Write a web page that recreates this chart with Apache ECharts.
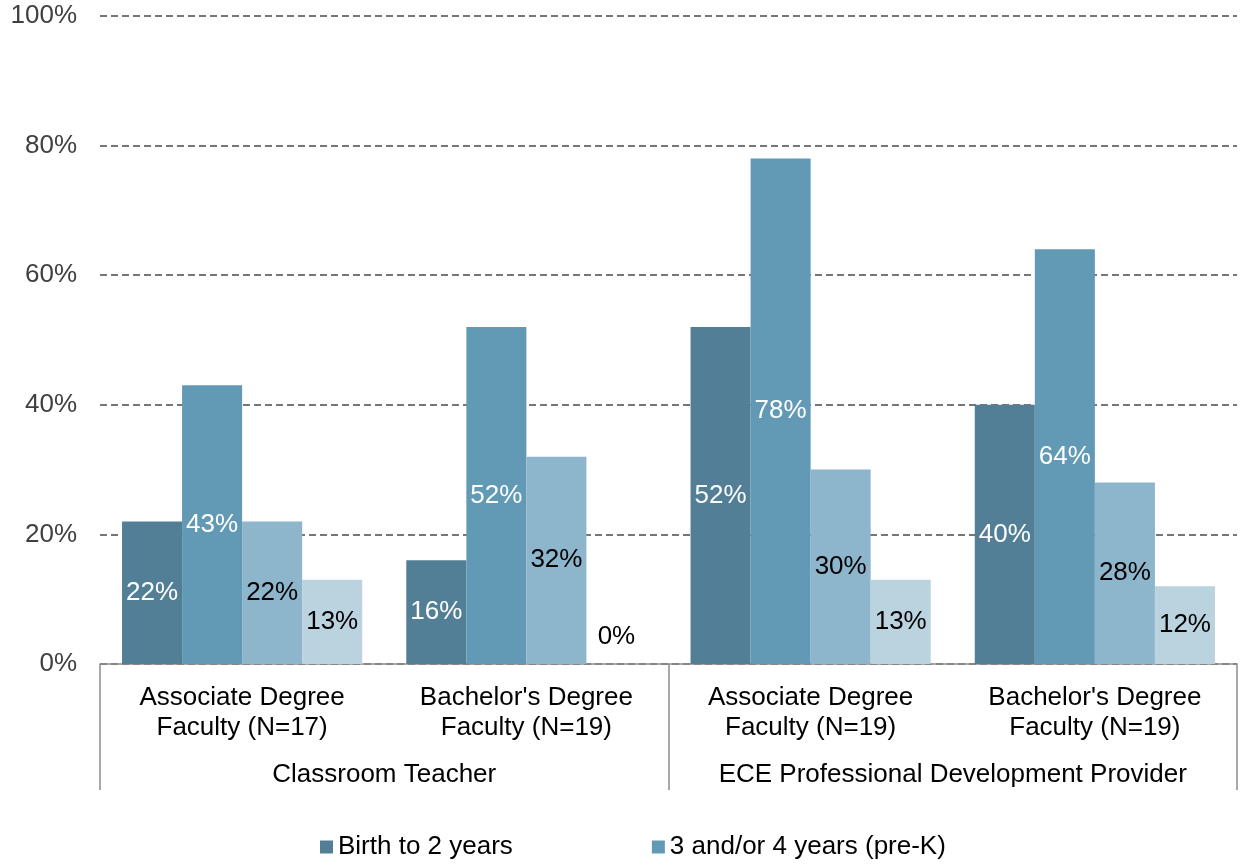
<!DOCTYPE html>
<html>
	<head>
		<meta charset="UTF-8">
		<title>Faculty by age group</title>
		<script src="https://cdn.jsdelivr.net/npm/echarts@6/dist/echarts.min.js"></script>
		<style>
			html, body { margin: 0; padding: 0; background: #fff; }
			#chart { width: 1243px; height: 865px; }
		</style>
	</head>
	<body>
		<div id="chart"></div>
		<script>
			var categories = ['Associate Degree\nFaculty (N=17)', "Bachelor's Degree\nFaculty (N=19)",
				'Associate Degree\nFaculty (N=19)', "Bachelor's Degree\nFaculty (N=19)"];
			var groups = ['Classroom Teacher', 'ECE Professional Development Provider'];
			var yTicks = [0, 20, 40, 60, 80, 100];

			var seriesNames = ['Birth to 2 years', '3 and/or 4 years (pre-K)', 'Kindergarten', 'Grades 1-3'];
			var birthTo2 = [22, 16, 52, 40];
			var preK = [43, 52, 78, 64];
			var kinder = [22, 32, 30, 28];
			var grades = [13, 0, 13, 12];

			var colors = ['#527f96', '#629ab5', '#8db5cb', '#bbd2df'];
			var labelColors = ['#ffffff', '#ffffff', '#000000', '#000000'];
			var font = 'Liberation Sans, Arial, sans-serif';

			function makeSeries(idx, values) {
				return {
					name: seriesNames[idx],
					type: 'bar',
					barGap: '0%',
					barCategoryGap: '15.5%',
					itemStyle: { color: colors[idx] },
					label: {
						show: true,
						position: 'inside',
						color: labelColors[idx],
						fontFamily: font,
						fontSize: 26,
						formatter: '{c}%'
					},
					data: values.map(function (v) {
						// zero bars get their label lifted above the axis
						if (v === 0) {
							return { value: v, label: { position: 'top', distance: 14 } };
						}
						return v;
					})
				};
			}

			var chart = echarts.init(document.getElementById('chart'), null, { renderer: 'canvas' });
			chart.setOption({
				animation: false,
				grid: { left: 100, right: 6, top: 16, bottom: 201 },
				legend: {
					data: seriesNames.slice(0, 2),
					bottom: 0,
					left: 315,
					itemWidth: 13,
					itemHeight: 13,
					itemGap: 139,
					icon: 'rect',
					textStyle: { fontFamily: font, fontSize: 26, color: '#000' }
				},
				xAxis: [{
					type: 'category',
					data: categories,
					axisLine: { lineStyle: { color: '#8c8c8c', width: 1.5 } },
					axisTick: { show: false },
					axisLabel: {
						interval: 0,
						margin: 19,
						color: '#000',
						fontFamily: font,
						fontSize: 26,
						lineHeight: 30
					}
				}, {
					type: 'category',
					data: groups,
					position: 'bottom',
					offset: 126,
					axisLine: { show: false },
					axisTick: {
						show: true,
						interval: 0,
						inside: true,
						length: 126,
						lineStyle: { color: '#8c8c8c', width: 1.5 }
					},
					axisLabel: {
						interval: 0,
						hideOverlap: false,
						inside: true,
						margin: 2,
						verticalAlign: 'bottom',
						color: '#000',
						fontFamily: font,
						fontSize: 26
					}
				}],
				yAxis: {
					type: 'value',
					min: yTicks[0],
					max: yTicks[yTicks.length - 1],
					interval: yTicks[1] - yTicks[0],
					axisLine: { show: false },
					axisTick: { show: false },
					axisLabel: {
						margin: 23,
						color: '#404040',
						fontFamily: font,
						fontSize: 26,
						formatter: '{value}%'
					},
					splitLine: { lineStyle: { color: '#767676', type: [7, 4], width: 2 } }
				},
				series: [
					makeSeries(0, birthTo2),
					makeSeries(1, preK),
					makeSeries(2, kinder),
					makeSeries(3, grades)
				]
			});
		</script>
	</body>
</html>
